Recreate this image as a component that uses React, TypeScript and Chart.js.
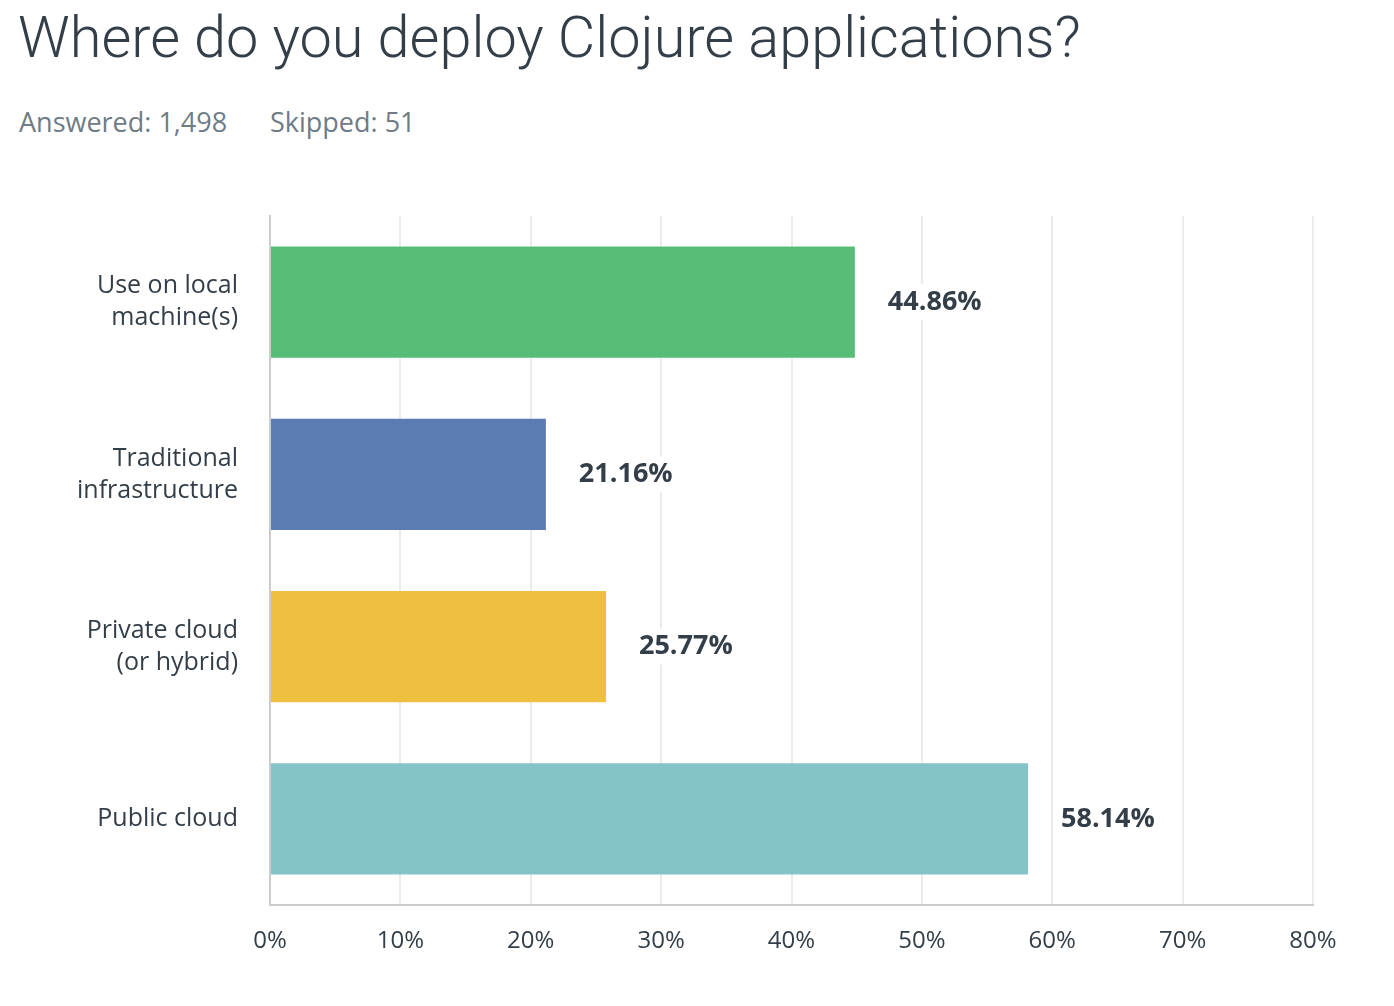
import React, { useEffect, useRef } from "react";
import { Chart, registerables } from "chart.js";

Chart.register(...registerables);

const categories: string[][] = [
  ["Use on local", "machine(s)"],
  ["Traditional", "infrastructure"],
  ["Private cloud", "(or hybrid)"],
  ["Public cloud"],
];
const values: number[] = [44.86, 21.16, 25.77, 58.14];
const barColors: string[] = ["#57BD76", "#5B7BB2", "#EFBF40", "#84C4C9"];
const xTicks: number[] = [0, 10, 20, 30, 40, 50, 60, 70, 80];

const TITLE = "Where do you deploy Clojure applications?";
const ANSWERED = "Answered: 1,498";
const SKIPPED = "Skipped: 51";

const TFONT = "Roboto, 'Open Sans', sans-serif";
const FONT = "'Open Sans', Roboto, sans-serif";
const TEXT = "#333E48";

const valueLabels = {
  id: "valueLabels",
  afterDatasetsDraw(chart: any) {
    const ctx = chart.ctx;
    const meta = chart.getDatasetMeta(0);
    ctx.save();
    ctx.font = `bold 27px ${FONT}`;
    ctx.textBaseline = "middle";
    ctx.textAlign = "left";
    meta.data.forEach((bar: any, i: number) => {
      const txt = values[i].toFixed(2) + "%";
      const x = bar.x + 33;
      const w = ctx.measureText(txt).width;
      ctx.fillStyle = "#ffffff";
      ctx.fillRect(x - 2, bar.y - 18, w + 4, 36);
      ctx.fillStyle = TEXT;
      ctx.fillText(txt, x, bar.y);
    });
    ctx.restore();
  },
};

export default function App() {
  const ref = useRef<HTMLCanvasElement>(null);
  useEffect(() => {
    if (!ref.current) return;
    const chart = new Chart(ref.current, {
      type: "bar",
      data: {
        labels: categories,
        datasets: [
          {
            data: values,
            backgroundColor: barColors,
            borderWidth: 0,
            barPercentage: 0.645,
            categoryPercentage: 1,
          },
        ],
      },
      plugins: [valueLabels],
      options: {
        indexAxis: "y",
        animation: false,
        responsive: false,
        events: [],
        layout: { padding: { top: 216, right: 81, left: 0, bottom: 0 } },
        plugins: { legend: { display: false }, tooltip: { enabled: false } },
        scales: {
          x: {
            min: 0,
            max: 80,
            afterFit: (s: any) => {
              s.height = 101;
            },
            afterBuildTicks: (s: any) => {
              s.ticks = xTicks.map((v) => ({ value: v }));
            },
            grid: { color: "#EBEBEB", lineWidth: 2, drawTicks: false },
            border: { display: true, color: "#CCCCCC", width: 2 },
            ticks: {
              padding: 22,
              color: TEXT,
              font: { family: FONT, size: 24 },
              callback: (v: any) => v + "%",
            },
          },
          y: {
            afterFit: (s: any) => {
              s.width = 270;
            },
            grid: { display: false, drawTicks: false },
            border: { display: true, color: "#CCCCCC", width: 2 },
            ticks: {
              padding: 32,
              color: TEXT,
              font: { family: FONT, size: 25, lineHeight: 1.28 },
            },
          },
        },
      },
    });
    return () => chart.destroy();
  }, []);

  return (
    <div style={{ position: "absolute", left: 0, top: 0, width: 1394, height: 1006, background: "#fff" }}>
      <div
        style={{
          position: "absolute",
          left: 18,
          top: 8,
          fontFamily: TFONT,
          fontWeight: 300,
          fontSize: 57.7,
          lineHeight: "58px",
          color: TEXT,
          whiteSpace: "nowrap",
        }}
      >
        {TITLE}
      </div>
      <div
        style={{
          position: "absolute",
          left: 19,
          top: 109,
          fontFamily: FONT,
          fontSize: 27,
          lineHeight: "26px",
          color: "#6F7B85",
          whiteSpace: "nowrap",
        }}
      >
        <span>{ANSWERED}</span>
        <span style={{ position: "absolute", left: 251 }}>{SKIPPED}</span>
      </div>
      <canvas ref={ref} width={1394} height={1006} style={{ position: "absolute", left: 0, top: 0 }} />
    </div>
  );
}
